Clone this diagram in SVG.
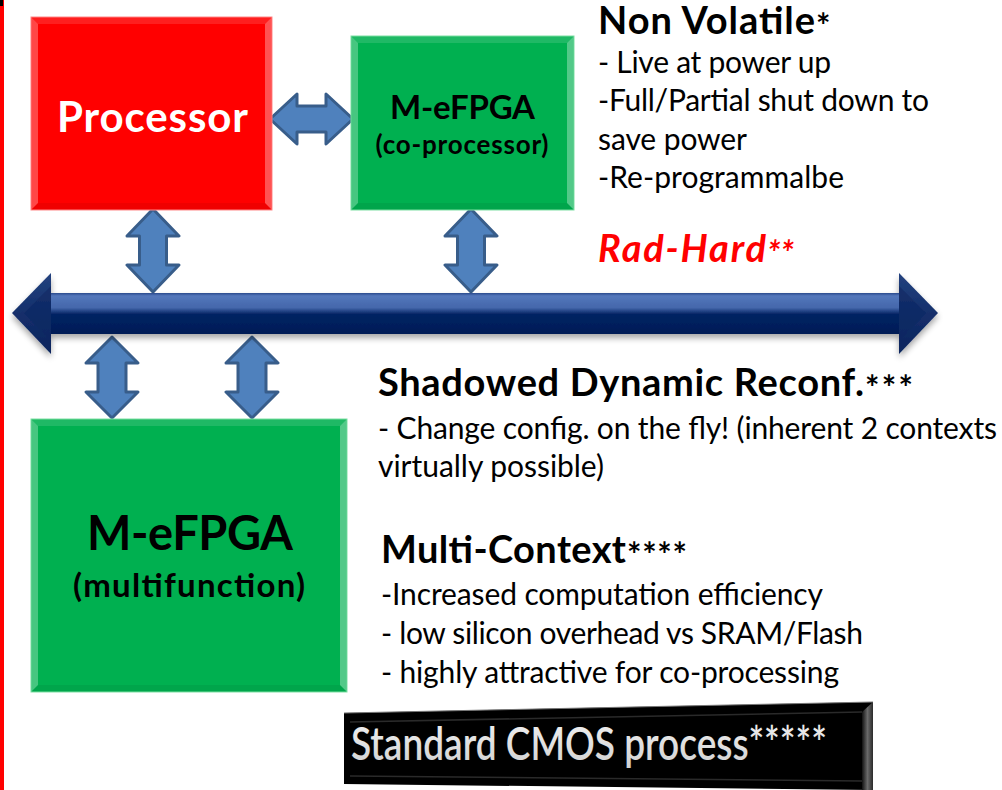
<svg xmlns="http://www.w3.org/2000/svg" width="1002" height="790" viewBox="0 0 1002 790">
<style>
.hd{font-family:Lato,"Liberation Sans",sans-serif;font-weight:bold;font-size:38px;fill:#000}
.ast{font-family:Lato,"Liberation Sans",sans-serif;font-weight:bold;font-size:34px;fill:#000}
.bd{font-family:Lato,"Liberation Sans",sans-serif;font-size:30px;fill:#000}
.bx{font-family:Lato,"Liberation Sans",sans-serif;font-weight:bold;text-anchor:middle}
.dbl{fill:#4F81BD;stroke:#385D8A;stroke-width:3;stroke-linejoin:round}
.bvL{fill:#fff;fill-opacity:0.28}
.bvR{fill:#fff;fill-opacity:0.32}
.bvT{fill:#fff;fill-opacity:0.12}
.bvB{fill:#000;fill-opacity:0.06}
</style>
<defs>
<linearGradient id="busG" x1="0" y1="0" x2="0" y2="1">
<stop offset="0" stop-color="#2a4a8c"/>
<stop offset="0.07" stop-color="#5477bb"/>
<stop offset="0.36" stop-color="#4467ab"/>
<stop offset="0.46" stop-color="#1c3c7d"/>
<stop offset="0.52" stop-color="#062363"/>
<stop offset="1" stop-color="#021c56"/>
</linearGradient>
<linearGradient id="headG" x1="0" y1="0" x2="0" y2="1">
<stop offset="0" stop-color="#23427f"/>
<stop offset="0.5" stop-color="#142f6b"/>
<stop offset="1" stop-color="#0b245c"/>
</linearGradient>
<linearGradient id="slabR" x1="0" y1="0" x2="1" y2="0">
<stop offset="0" stop-color="#111"/>
<stop offset="0.5" stop-color="#6a6a6a"/>
<stop offset="1" stop-color="#2a2a2a"/>
</linearGradient>
<linearGradient id="txtG" x1="0" y1="0" x2="0" y2="1">
<stop offset="0" stop-color="#f4f4f4"/>
<stop offset="1" stop-color="#d0d0d0"/>
</linearGradient>
<filter id="sh" x="-5%" y="-30%" width="110%" height="160%">
<feGaussianBlur in="SourceAlpha" stdDeviation="3"/>
<feOffset dy="4" result="b"/>
<feComponentTransfer><feFuncA type="linear" slope="0.35"/></feComponentTransfer>
<feMerge><feMergeNode/><feMergeNode in="SourceGraphic"/></feMerge>
</filter>
</defs>

<rect x="0" y="0" width="4" height="790" fill="#FF0000"/>
<rect x="0" y="0" width="3" height="6" fill="#000"/>

<g id="connectors">
<path class="dbl" d="M270,119 L297,94 L297,106 L326,106 L326,94 L353,119 L326,144 L326,132 L297,132 L297,144 Z"/>
<path class="dbl" d="M153,209 L179,236 L166.5,236 L166.5,265 L179,265 L153,292 L127,265 L139.5,265 L139.5,236 L127,236 Z"/>
<path class="dbl" d="M471,209 L497,236 L484.5,236 L484.5,265 L497,265 L471,292 L445,265 L457.5,265 L457.5,236 L445,236 Z"/>
<path class="dbl" d="M112,337 L138,363 L126,363 L126,392 L138,392 L112,418 L86,392 L98,392 L98,363 L86,363 Z"/>
<path class="dbl" d="M252,337 L278,363 L266,363 L266,392 L278,392 L252,418 L226,392 L238,392 L238,363 L226,363 Z"/>
</g>

<g id="bus" filter="url(#sh)">
<rect x="48" y="293" width="853" height="41" fill="url(#busG)"/>
<polygon points="12,313 51,273 51,354" fill="url(#headG)"/>
<polygon points="24,313 51,286 51,341" fill="#0e2862" opacity="0.6"/>
<polygon points="938,313 899,273 899,354" fill="url(#headG)"/>
<polygon points="926,313 899,286 899,341" fill="#0e2862" opacity="0.6"/>
</g>

<g id="processor">
<rect x="31" y="17" width="241" height="193" fill="#FF0000" stroke="#ff8a8a" stroke-width="1"/>
<polygon class="bvL" points="31.5,17.5 38,24 38,203 31.5,209.5"/>
<polygon class="bvR" points="271.5,17.5 265,24 265,203 271.5,209.5"/>
<polygon class="bvT" points="31.5,17.5 271.5,17.5 265,24 38,24"/>
<polygon class="bvB" points="31.5,209.5 271.5,209.5 265,203 38,203"/>
<text class="bx" x="152.5" y="132" font-size="42" fill="#fff" textLength="191">Processor</text>
</g>

<g id="coprocessor">
<rect x="351" y="36" width="223" height="174" fill="#00B050" stroke="#7fe0a4" stroke-width="1"/>
<polygon class="bvL" points="351.5,36.5 358,43 358,203 351.5,209.5"/>
<polygon class="bvR" points="573.5,36.5 567,43 567,203 573.5,209.5"/>
<polygon class="bvT" points="351.5,36.5 573.5,36.5 567,43 358,43"/>
<polygon class="bvB" points="351.5,209.5 573.5,209.5 567,203 358,203"/>
<text class="bx" x="462.5" y="119" font-size="33" fill="#000" textLength="145">M-eFPGA</text>
<text class="bx" x="462" y="154" font-size="26" fill="#000" textLength="173">(co-processor)</text>
</g>

<g id="multifunction">
<rect x="31" y="419" width="316" height="273" fill="#00B050" stroke="#7fe0a4" stroke-width="1"/>
<polygon class="bvL" points="31.5,419.5 38,426 38,685 31.5,691.5"/>
<polygon class="bvR" points="346.5,419.5 340,426 340,685 346.5,691.5"/>
<polygon class="bvT" points="31.5,419.5 346.5,419.5 340,426 38,426"/>
<polygon class="bvB" points="31.5,691.5 346.5,691.5 340,685 38,685"/>
<text class="bx" x="190" y="550" font-size="47" fill="#000" textLength="206">M-eFPGA</text>
<text class="bx" x="189" y="597" font-size="33" fill="#000" textLength="232">(multifunction)</text>
</g>

<g id="nonvolatile">
<text class="hd" x="598" y="34" textLength="217">Non Volatile</text>
<text class="ast" x="816" y="38">*</text>
<text class="bd" x="598" y="73" textLength="233">- Live at power up</text>
<text class="bd" x="598" y="111" textLength="331">-Full/Partial shut down to</text>
<text class="bd" x="598" y="150" textLength="149">save power</text>
<text class="bd" x="598" y="188" textLength="246">-Re-programmalbe</text>
</g>

<g id="radhard">
<text class="hd" x="598" y="262" style="fill:#FF0000;font-style:italic" textLength="168">Rad-Hard</text>
<text class="ast" x="767" y="266" style="fill:#FF0000;font-style:italic">**</text>
</g>

<g id="shadowed">
<text class="hd" x="378" y="396" textLength="486">Shadowed Dynamic Reconf.</text>
<text class="ast" x="865" y="400" textLength="48">***</text>
<text class="bd" x="378" y="439" textLength="619">- Change config. on the fly! (inherent 2 contexts</text>
<text class="bd" x="378" y="477" textLength="226">virtually possible)</text>
</g>

<g id="multicontext">
<text class="hd" x="381" y="563" textLength="245">Multi-Context</text>
<text class="ast" x="627" y="567" textLength="60">****</text>
<text class="bd" x="381" y="605" textLength="442">-Increased computation efficiency</text>
<text class="bd" x="381" y="644" textLength="482">- low silicon overhead vs SRAM/Flash</text>
<text class="bd" x="381" y="683" textLength="458">- highly attractive for co-processing</text>
</g>

<g id="cmos">
<polygon points="344,713 873,702 873,790 344,784" fill="#000"/>
<polygon points="862,712 873,702 873,790 862,790" fill="url(#slabR)"/>
<line x1="344" y1="713" x2="873" y2="702" stroke="#777" stroke-width="1"/>
<line x1="350" y1="722" x2="862" y2="712" stroke="#2a2a2a" stroke-width="1.5"/>
<line x1="350" y1="776" x2="862" y2="781" stroke="#2a2a2a" stroke-width="1.5"/>
<text x="351" y="760" font-family="Lato,'Liberation Sans',sans-serif" font-size="47" font-weight="600" fill="url(#txtG)" textLength="476" lengthAdjust="spacingAndGlyphs">Standard CMOS process*****</text>
</g>
</svg>
